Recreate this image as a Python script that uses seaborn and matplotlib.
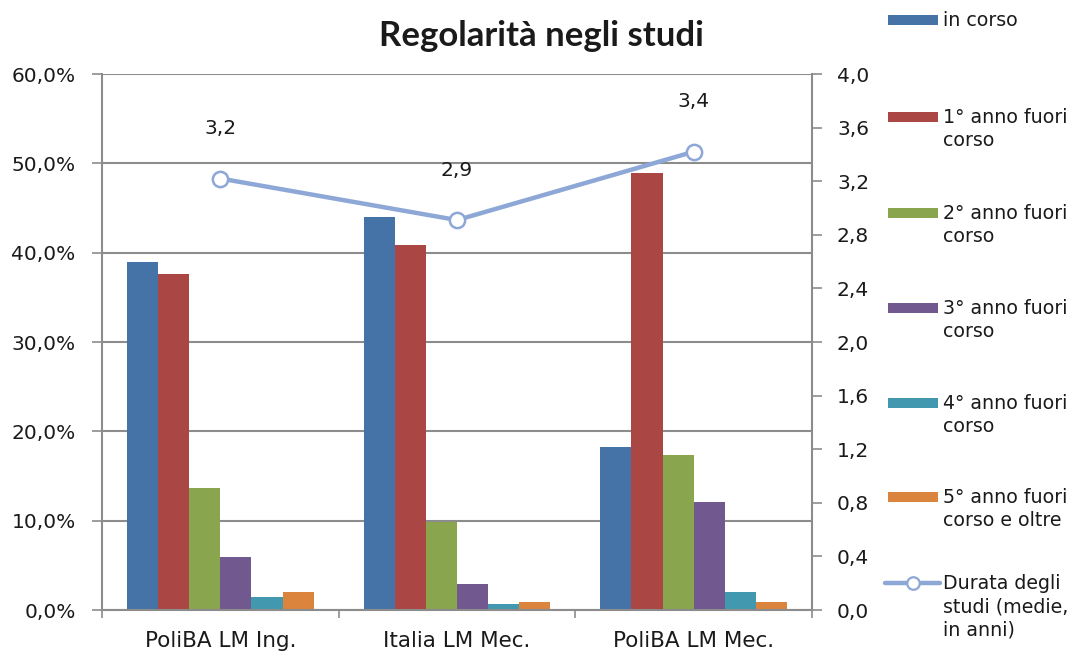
import matplotlib
matplotlib.use("Agg")
import matplotlib.pyplot as plt
from matplotlib.patches import Rectangle
from matplotlib.lines import Line2D
from matplotlib.ticker import FuncFormatter
import seaborn as sns
import numpy as np
import pandas as pd

# data
categories = ["PoliBA LM Ing.", "Italia LM Mec.", "PoliBA LM Mec."]
series = ["in corso", "1° anno fuori corso", "2° anno fuori corso",
          "3° anno fuori corso", "4° anno fuori corso", "5° anno fuori corso e oltre"]
in_corso = [38.9, 44.0, 18.3]
fc1 = [37.6, 40.9, 48.9]
fc2 = [13.7, 9.9, 17.3]
fc3 = [5.9, 2.9, 12.1]
fc4 = [1.4, 0.7, 2.0]
fc5 = [2.0, 0.9, 0.9]
durata = [3.22, 2.91, 3.42]
durata_labels = ["3,2", "2,9", "3,4"]

legend_labels = ["in corso", "1° anno fuori\ncorso", "2° anno fuori\ncorso",
                 "3° anno fuori\ncorso", "4° anno fuori\ncorso", "5° anno fuori\ncorso e oltre"]
line_label = "Durata degli\nstudi (medie,\nin anni)"

colors = ["#4572A7", "#AA4643", "#89A54E", "#71588F", "#4198AF", "#DB843D"]
line_color = "#8DA7D6"
grid_color = "#8C8C8C"
text_color = "#1a1a1a"

sns.set_theme(style="white")
plt.rcParams["font.family"] = ["DejaVu Sans"]

rows = []
for name, vals in zip(series, [in_corso, fc1, fc2, fc3, fc4, fc5]):
    for cat, v in zip(categories, vals):
        rows.append({"corso": cat, "stato": name, "valore": v})
df = pd.DataFrame(rows)

W, H = 1082, 659
fig = plt.figure(figsize=(W / 100, H / 100), dpi=100)
ax = fig.add_axes([102 / W, 1 - 610 / H, (812 - 102) / W, (610 - 74) / H])

sns.barplot(data=df, x="corso", y="valore", hue="stato", hue_order=series,
            palette=colors, width=0.79, gap=0, saturation=1, legend=False,
            edgecolor="none", ax=ax)

ax.set_xlim(-0.5, 2.5)
ax.set_ylim(0, 60)
ax.set_yticks(np.arange(0, 61, 10))
ax.yaxis.set_major_formatter(FuncFormatter(lambda v, p: f"{v:.1f}%".replace(".", ",")))
ax.grid(axis="y", color=grid_color, linewidth=1.5)
ax.set_axisbelow(True)
ax.set_xlabel("")
ax.set_ylabel("")
ax.tick_params(axis="y", length=7, width=1.2, color=grid_color, labelsize=14.5,
               labelcolor=text_color, direction="out", left=True, pad=12)
ax.tick_params(axis="x", length=0, labelsize=15.5, labelcolor=text_color, pad=15)
ax.set_xticks([-0.5, 0.5, 1.5, 2.5], minor=True)
ax.tick_params(axis="x", which="minor", length=6, width=1.2, color=grid_color,
               direction="out", bottom=True)
for s in ["left", "bottom"]:
    ax.spines[s].set_color(grid_color)
    ax.spines[s].set_linewidth(1.5)
ax.spines["top"].set_visible(False)
ax.spines["right"].set_visible(False)

ax2 = ax.twinx()
sns.lineplot(x=np.arange(len(categories)), y=durata, ax=ax2, color=line_color,
             linewidth=3.2, marker="o", markersize=11, markerfacecolor="white",
             markeredgecolor=line_color, markeredgewidth=1.8)
ax2.set_ylim(0, 4.0)
ax2.set_yticks(np.arange(0, 4.01, 0.4))
ax2.yaxis.set_major_formatter(FuncFormatter(lambda v, p: f"{v:.1f}".replace(".", ",")))
ax2.tick_params(axis="y", length=7, width=1.2, color=grid_color, labelsize=14.5,
                labelcolor=text_color, direction="out", right=True, pad=11)
ax2.spines["right"].set_color(grid_color)
ax2.spines["right"].set_linewidth(1.5)
for s in ["left", "top", "bottom"]:
    ax2.spines[s].set_visible(False)
ax2.set_xlim(-0.5, 2.5)
ax2.set_ylabel("")

for i, (v, lab) in enumerate(zip(durata, durata_labels)):
    ax2.annotate(lab, (i, v), xytext=(0, 36), textcoords="offset points",
                 ha="center", va="center", fontsize=14.5, color=text_color)

fig.text(0.5, 1 - 36 / H, "Regolarità negli studi", ha="center", va="center",
         fontsize=25, fontweight="bold", color=text_color, family=["Lato", "DejaVu Sans"])

# legend placed to the right, handle next to the first text line
entry_y = [20, 117, 213, 308, 403, 497]
for y, lab, c in zip(entry_y, legend_labels, colors):
    fig.add_artist(Rectangle((888 / W, 1 - (y + 5) / H), 50 / W, 10 / H,
                             transform=fig.transFigure, facecolor=c, edgecolor="none"))
    fig.text(943 / W, 1 - (y - 9) / H, lab, ha="left", va="top",
             fontsize=13.7, color=text_color, linespacing=1.3)
ly = 1 - 583 / H
fig.add_artist(Line2D([885 / W, 940 / W], [ly, ly], transform=fig.transFigure,
                      color=line_color, linewidth=3.2))
fig.add_artist(Line2D([913 / W], [ly], transform=fig.transFigure, marker="o",
                      markersize=9, markerfacecolor="white", markeredgecolor=line_color,
                      markeredgewidth=1.6))
fig.text(943 / W, 1 - (583 - 9) / H, line_label, ha="left", va="top",
         fontsize=13.7, color=text_color, linespacing=1.3)

fig.savefig("out.png", dpi=100)
